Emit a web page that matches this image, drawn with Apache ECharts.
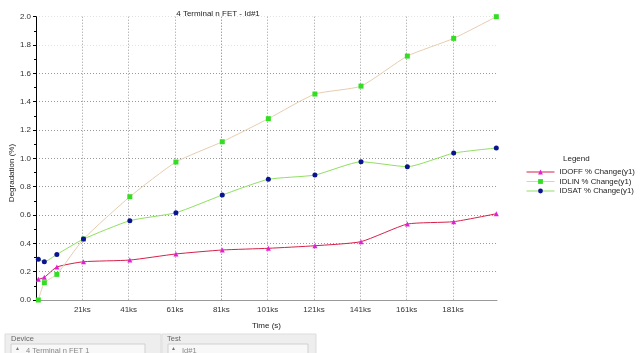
<!DOCTYPE html>
<html>
<head>
<meta charset="utf-8">
<script src="https://cdn.jsdelivr.net/npm/echarts@6/dist/echarts.min.js"></script>
<style>
html,body{margin:0;padding:0;background:#fff;}
#chart{width:640px;height:353px;}
</style>
</head>
<body>
<div id="chart"></div>
<script>
// Time in kiloseconds
const timeKs = [2, 4.6, 10, 21.5, 41.5, 61.4, 81.4, 101.3, 121.4, 141.3, 161.3, 181.3, 199.7];
const idoff = [0.146, 0.160, 0.233, 0.270, 0.282, 0.325, 0.353, 0.365, 0.383, 0.412, 0.536, 0.553, 0.609];
const idlin = [0.000, 0.122, 0.181, 0.430, 0.729, 0.974, 1.117, 1.280, 1.454, 1.510, 1.722, 1.847, 2.000];
const idsat = [0.287, 0.270, 0.322, 0.430, 0.560, 0.616, 0.741, 0.852, 0.882, 0.976, 0.941, 1.037, 1.073];
const seriesNames = ['IDOFF % Change(y1)', 'IDLIN % Change(y1)', 'IDSAT % Change(y1)'];
const titleText = '4 Terminal n FET - Id#1';

const FONT = 'Liberation Sans';
const FS = 8;
const pair = (vals) => timeKs.map((t, i) => [t, vals[i]]);

const chart = echarts.init(document.getElementById('chart'), null, {renderer: 'canvas'});
const gridDots = [1, 2];
chart.setOption({
  animation: false,
  backgroundColor: '#ffffff',
  title: {
    text: titleText, left: 213, top: 5, textAlign: 'center',
    textStyle: {fontFamily: FONT, fontSize: FS, fontWeight: 'normal', color: '#222'}
  },
  grid: {left: 36, right: 143, top: 16.7, bottom: 53, containLabel: false},
  legend: {
    orient: 'vertical', left: 526, top: 168, padding: 0,
    itemWidth: 28, itemHeight: 6, itemGap: 1.5,
    lineStyle: {width: 1},
    textStyle: {fontFamily: FONT, fontSize: 7.8, color: '#222'},
    data: seriesNames
  },
  xAxis: {
    type: 'value', min: 1, max: 200, interval: 20,
    name: 'Time (s)', nameLocation: 'middle', nameGap: 22,
    nameTextStyle: {fontFamily: FONT, fontSize: FS, color: '#222'},
    axisLine: {show: true, lineStyle: {color: '#999', width: 1}},
    axisTick: {show: false},
    axisLabel: {
      showMinLabel: false, showMaxLabel: false, margin: 6,
      fontFamily: FONT, fontSize: FS, color: '#333',
      formatter: v => Math.round(v) + 'ks'
    },
    splitLine: {show: true, showMinLine: false, showMaxLine: false,
      lineStyle: {color: ['#999', '#999', '#999', '#777', '#999', '#999', '#999', '#999', '#999', '#333', '#999'], width: 1, type: gridDots}}
  },
  yAxis: {
    type: 'value', min: 0, max: 2, interval: 0.2,
    axisLine: {show: true, lineStyle: {color: '#000', width: 1}},
    axisTick: {show: true, length: 3, lineStyle: {color: '#000'}},
    minorTick: {show: true, splitNumber: 2, length: 2, lineStyle: {color: '#000'}},
    axisLabel: {fontFamily: FONT, fontSize: FS, color: '#333', margin: 5,
      formatter: v => v.toFixed(1)},
    splitLine: {show: true, showMinLine: false,
      lineStyle: {color: ['#999', '#999', '#999', '#999', '#999', '#999', '#999', '#999', '#e2e2e2', '#e2e2e2', '#777'], width: 1, type: gridDots}}
  },
  graphic: [
    {type: 'text', rotation: Math.PI / 2, x: 8, y: 173,
      style: {text: 'Degradation (%)', fontFamily: FONT, fontSize: FS, fill: '#222', align: 'center', verticalAlign: 'top'}},
    {type: 'text', left: 563, top: 155,
      style: {text: 'Legend', fontFamily: FONT, fontSize: FS, fill: '#222'}},
    // bottom UI panel (part of the screenshot)
    {type: 'rect', shape: {x: 5, y: 334, width: 156, height: 25}, style: {fill: '#eeeeee', stroke: '#dddddd'}},
    {type: 'rect', shape: {x: 162, y: 334, width: 154, height: 25}, style: {fill: '#eeeeee', stroke: '#dddddd'}},
    {type: 'text', x: 11, y: 335, style: {text: 'Device', fontFamily: FONT, fontSize: 7.5, fill: '#666'}},
    {type: 'text', x: 167, y: 335, style: {text: 'Test', fontFamily: FONT, fontSize: 7.5, fill: '#666'}},
    {type: 'rect', shape: {x: 11, y: 344, width: 134, height: 12}, style: {fill: '#f8f8f8', stroke: '#d0d0d0'}},
    {type: 'rect', shape: {x: 168, y: 344, width: 140, height: 12}, style: {fill: '#f8f8f8', stroke: '#d0d0d0'}},
    {type: 'text', x: 15, y: 346, style: {text: '▲', fontFamily: FONT, fontSize: 5, fill: '#777'}},
    {type: 'text', x: 171, y: 346, style: {text: '▲', fontFamily: FONT, fontSize: 5, fill: '#777'}},
    {type: 'text', x: 26, y: 347, style: {text: '4 Terminal n FET 1', fontFamily: FONT, fontSize: 7.5, fill: '#888'}},
    {type: 'text', x: 182, y: 347, style: {text: 'Id#1', fontFamily: FONT, fontSize: 7.5, fill: '#888'}}
  ],
  series: [
    {
      name: seriesNames[0], type: 'line', data: pair(idoff), smooth: 0.18,
      symbol: 'triangle', symbolSize: 5,
      itemStyle: {color: '#e020d8'},
      lineStyle: {color: '#d8204a', width: 1}
    },
    {
      name: seriesNames[1], type: 'line', data: pair(idlin), smooth: 0.18,
      symbol: 'rect', symbolSize: 5,
      itemStyle: {color: '#33dd22'},
      lineStyle: {color: '#e6cdb0', width: 1}
    },
    {
      name: seriesNames[2], type: 'line', data: pair(idsat), smooth: 0.18,
      symbol: 'circle', symbolSize: 5,
      itemStyle: {color: '#0a1490'},
      lineStyle: {color: '#8fe060', width: 1}
    }
  ]
});
</script>
</body>
</html>
